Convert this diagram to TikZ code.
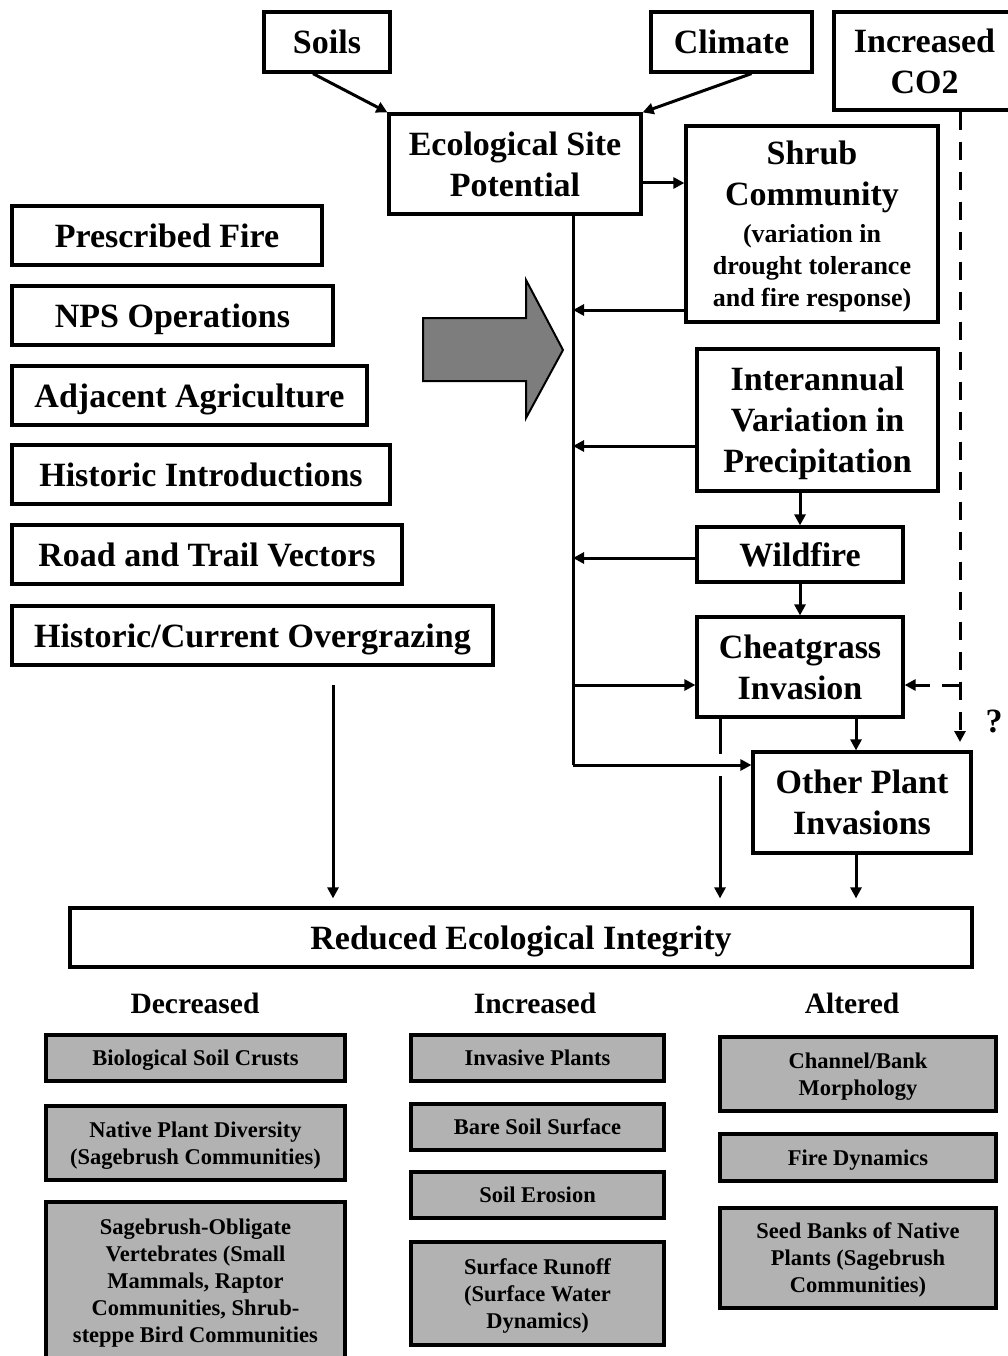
\documentclass[tikz,border=0pt]{standalone}
\usepackage{fontspec}
\setmainfont{Liberation Serif}
\usetikzlibrary{arrows.meta}
\definecolor{boxgray}{RGB}{178,178,178}
\definecolor{arrowgray}{RGB}{125,125,125}
\newcommand{\subtxt}{\fontsize{26}{32}\selectfont}
\begin{document}
\begin{tikzpicture}[x=1pt,y=-1pt,
  box/.style={draw, line width=3.2pt, fill=white, inner sep=0pt, align=center,
    text depth=0pt, font=\fontsize{34}{41}\selectfont\bfseries},
  effect/.style={draw, line width=4pt, fill=boxgray, inner sep=0pt, align=center,
    text depth=0pt, font=\fontsize{22.5}{27}\selectfont\bfseries},
  head/.style={inner sep=0pt, font=\fontsize{29.5}{35}\selectfont\bfseries},
  link/.style={line width=3pt},
  arr/.style={line width=3pt, -{Triangle[length=11pt,width=11pt]}},
  dasharr/.style={line width=3pt, dash pattern=on 18pt off 12pt,
    -{Triangle[length=11pt,width=11pt]}}
]
\useasboundingbox (0,0) rectangle (1007,1356);

% ---- drivers at the top
\node[box, minimum width=126pt, minimum height=60pt] (soils) at (327,42) {Soils};
\node[box, minimum width=161pt, minimum height=60pt] (climate) at (731.5,42) {Climate};
\node[box, minimum width=181pt, minimum height=98pt] (co2) at (924.5,61) {Increased\\CO2};
\node[box, minimum width=252pt, minimum height=100pt] (esp) at (515,164) {Ecological Site\\Potential};
\node[box, minimum width=252pt, minimum height=196pt] (shrub) at (812,224)
  {Shrub\\Community\\[-4pt]\subtxt (variation in\\[-9pt]\subtxt drought tolerance\\[-9pt]\subtxt and fire response)};

% ---- central chain
\node[box, minimum width=241pt, minimum height=142pt] (inter) at (817.5,420) {Interannual\\Variation in\\Precipitation};
\node[box, minimum width=206pt, minimum height=55pt] (wildfire) at (800,554.5) {Wildfire};
\node[box, minimum width=206pt, minimum height=100pt] (cheat) at (800,667) {Cheatgrass\\Invasion};
\node[box, minimum width=218pt, minimum height=101pt] (other) at (862,802.5) {Other Plant\\Invasions};
\node[box, minimum width=902pt, minimum height=59pt] (reduced) at (521,937.5) {Reduced Ecological Integrity};

% ---- management and disturbance factors
\node[box, minimum width=310pt, minimum height=59pt] (pfire) at (167,235.5) {Prescribed Fire};
\node[box, minimum width=321pt, minimum height=59pt] (nps) at (172.5,315.5) {NPS Operations};
\node[box, minimum width=355pt, minimum height=59pt] (agri) at (189.5,395.5) {Adjacent Agriculture};
\node[box, minimum width=378pt, minimum height=59pt] (intro) at (201,474.5) {Historic Introductions};
\node[box, minimum width=390pt, minimum height=59pt] (road) at (207,554.5) {Road and Trail Vectors};
\node[box, minimum width=481pt, minimum height=59pt] (graz) at (252.5,635.5) {Historic/Current Overgrazing};

% big block arrow
\draw[line width=2pt, fill=arrowgray, line join=miter]
  (423,318) -- (526,318) -- (526,280) -- (563,350) -- (526,418) -- (526,381) -- (423,381) -- cycle;

% ---- outcome columns
\node[head] (hdec) at (195,1003) {Decreased};
\node[head] (hinc) at (535,1003) {Increased};
\node[head] (halt) at (852,1003) {Altered};

\node[effect, minimum width=299pt, minimum height=46pt] (bsc) at (195.5,1058) {Biological Soil Crusts};
\node[effect, minimum width=299pt, minimum height=74pt] (npd) at (195.5,1143) {Native Plant Diversity\\(Sagebrush Communities)};
\node[effect, minimum width=299pt, minimum height=158pt] (sov) at (195.5,1281)
  {Sagebrush-Obligate\\Vertebrates (Small\\Mammals, Raptor\\Communities, Shrub-\\steppe Bird Communities};

\node[effect, minimum width=253pt, minimum height=46pt] (invp) at (537.5,1058) {Invasive Plants};
\node[effect, minimum width=253pt, minimum height=46pt] (bare) at (537.5,1127) {Bare Soil Surface};
\node[effect, minimum width=253pt, minimum height=46pt] (eros) at (537.5,1195) {Soil Erosion};
\node[effect, minimum width=253pt, minimum height=103pt] (runoff) at (537.5,1293.5) {Surface Runoff\\(Surface Water\\Dynamics)};

\node[effect, minimum width=276pt, minimum height=74pt] (chan) at (858,1074) {Channel/Bank\\Morphology};
\node[effect, minimum width=276pt, minimum height=47pt] (firedyn) at (858,1157.5) {Fire Dynamics};
\node[effect, minimum width=276pt, minimum height=100pt] (seed) at (858,1258) {Seed Banks of Native\\Plants (Sagebrush\\Communities)};

% ---- connectors
\draw[arr] ([xshift=-14pt]soils.south) -- (esp.north west);
\draw[arr] ([xshift=20pt]climate.south) -- (esp.north east);
\draw[arr] ([yshift=-19pt]esp.east) -- ([yshift=-19pt]esp.east -| shrub.west);

% trunk line below the site potential
\coordinate (t0) at (573,214);
\coordinate (t1) at (573,310);
\coordinate (t2) at (573,446);
\coordinate (t3) at (573,558);
\coordinate (t4) at (573,685);
\coordinate (t5) at (573,765);
\draw[link] (t0) -- (t5);
\draw[arr] (shrub.west |- t1) -- (t1);
\draw[arr] (inter.west |- t2) -- (t2);
\draw[arr] (wildfire.west |- t3) -- (t3);
\draw[arr] (t4) -- (t4 -| cheat.west);
\draw[arr] (t5) -- (t5 -| other.west);

\draw[arr] (inter.south -| wildfire.north) -- (wildfire.north);
\draw[arr] (wildfire.south) -- (cheat.north);
\draw[arr] ([xshift=56pt]cheat.south) -- ([xshift=-6pt]other.north);

% cheatgrass to outcome, broken where it passes the trunk branch
\coordinate (hop) at (720,765);
\draw[link] (cheat.south -| hop) -- ([yshift=11pt]hop);
\draw[arr, shorten >=8pt] ([yshift=-11pt]hop) -- (hop |- reduced.north);
\draw[arr, shorten >=8pt] ([xshift=-6pt]other.south) -- ([xshift=-6pt]other.south |- reduced.north);

\coordinate (g0) at (333,685);
\draw[arr, shorten >=8pt] (g0) -- (g0 |- reduced.north);

% CO2 influence (uncertain)
\coordinate (d1) at (960,685);
\coordinate (d2) at (960,742);
\draw[dasharr] (co2.south -| d1) -- (d2);
\draw[dasharr] (d1) -- (d1 -| cheat.east);
\node[inner sep=0pt, font=\fontsize{34}{41}\selectfont\bfseries] (q) at (994,721) {?};

\end{tikzpicture}
\end{document}
